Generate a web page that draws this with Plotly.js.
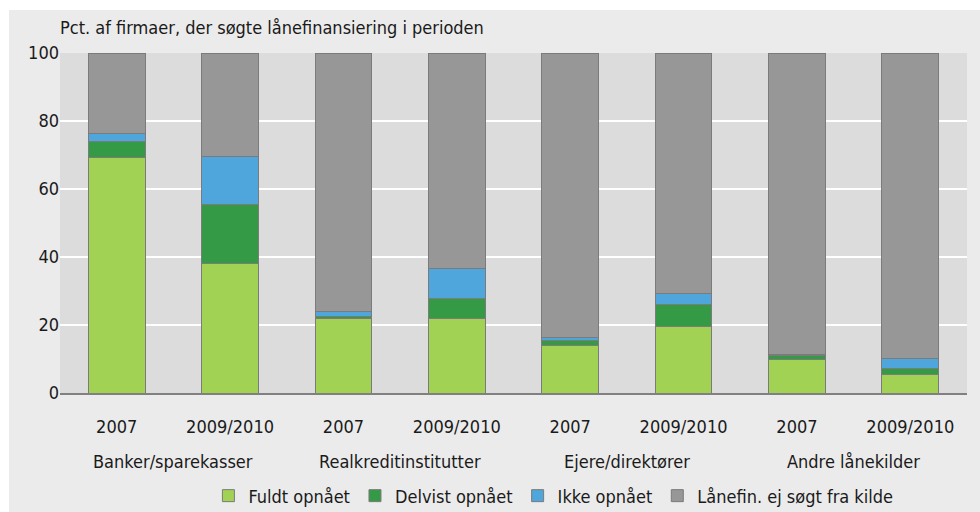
<!DOCTYPE html>
<html>
<head>
<meta charset="utf-8">
<script src="https://cdn.plot.ly/plotly-3.0.1.min.js"></script>
<style>
  html, body { margin: 0; padding: 0; background: #ffffff; }
  #chart { position: absolute; left: 9px; top: 10px; width: 971px; height: 502px; }
</style>
</head>
<body>
<div id="chart"></div>
<script>
const groups = ['Banker/sparekasser', 'Banker/sparekasser', 'Realkreditinstitutter', 'Realkreditinstitutter',
                'Ejere/direktører', 'Ejere/direktører', 'Andre lånekilder', 'Andre lånekilder'];
const periods = ['2007', '2009/2010', '2007', '2009/2010', '2007', '2009/2010', '2007', '2009/2010'];
const groupNames = ['Banker/sparekasser', 'Realkreditinstitutter', 'Ejere/direktører', 'Andre lånekilder'];

const fuldt   = [69.4, 38.2, 21.9, 21.8, 14.1, 19.5, 10.0, 5.5];
const delvist = [4.5, 17.2, 0.7, 6.1, 1.2, 6.5, 1.0, 1.6];
const ikke    = [2.5, 14.3, 1.4, 8.7, 1.1, 3.4, 0.2, 3.0];
const ejSoegt = [23.6, 30.3, 76.0, 63.4, 83.6, 70.6, 88.8, 89.9];

const seriesNames = ['Fuldt opnået', 'Delvist opnået', 'Ikke opnået', 'Lånefin. ej søgt fra kilde'];
const seriesColors = ['#a2d254', '#359a46', '#4ea6dc', '#979797'];
const seriesValues = [fuldt, delvist, ikke, ejSoegt];

const FONT = '"DejaVu Sans Condensed", "DejaVu Sans", sans-serif';
const TXT = '#1a1a1a';

const keys = groups.map((g, i) => g + ' | ' + periods[i]);

const traces = seriesValues.map((vals, i) => ({
  type: 'bar',
  name: seriesNames[i],
  x: keys,
  y: vals,
  width: 0.5,
  marker: { color: seriesColors[i], line: { color: '#7b7b7b', width: 1 } },
  hoverinfo: 'y+name'
}));

const annotations = groupNames.map((g, j) => ({
  text: g,
  x: 2 * j + 0.5, xref: 'x',
  y: -0.2, yref: 'paper',
  xanchor: 'center', yanchor: 'middle',
  showarrow: false,
  font: { family: FONT, size: 18, color: TXT }
}));

const layout = {
  width: 971,
  height: 502,
  barmode: 'stack',
  paper_bgcolor: '#ebebeb',
  plot_bgcolor: '#dcdcdc',
  margin: { l: 51, r: 13, t: 43, b: 119 },
  font: { family: FONT, size: 18, color: TXT },
  title: {
    text: 'Pct. af firmaer, der søgte lånefinansiering i perioden',
    x: 0, xref: 'paper', xanchor: 'left',
    y: 0.964, yref: 'container', yanchor: 'middle',
    font: { family: FONT, size: 18, color: TXT }
  },
  xaxis: {
    type: 'category',
    automargin: false,
    tickvals: keys,
    ticktext: periods,
    ticklabelstandoff: 17,
    showgrid: false,
    showline: true,
    linecolor: '#808080',
    linewidth: 1.5,
    ticks: '',
    tickfont: { family: FONT, size: 18, color: TXT },
    zeroline: false,
    fixedrange: true
  },
  yaxis: {
    range: [0, 100],
    dtick: 20,
    tick0: 0,
    automargin: false,
    showgrid: true,
    gridcolor: '#ffffff',
    gridwidth: 2,
    zeroline: false,
    ticks: '',
    tickfont: { family: FONT, size: 18, color: TXT },
    fixedrange: true
  },
  annotations: annotations,
  showlegend: true,
  legend: {
    orientation: 'h',
    x: 0.544, xanchor: 'center', xref: 'paper',
    y: 0.032, yanchor: 'middle', yref: 'container',
    bgcolor: 'rgba(0,0,0,0)',
    font: { family: FONT, size: 18, color: TXT },
    traceorder: 'normal'
  }
};

Plotly.newPlot('chart', traces, layout, { displayModeBar: false, staticPlot: true });
</script>
</body>
</html>
